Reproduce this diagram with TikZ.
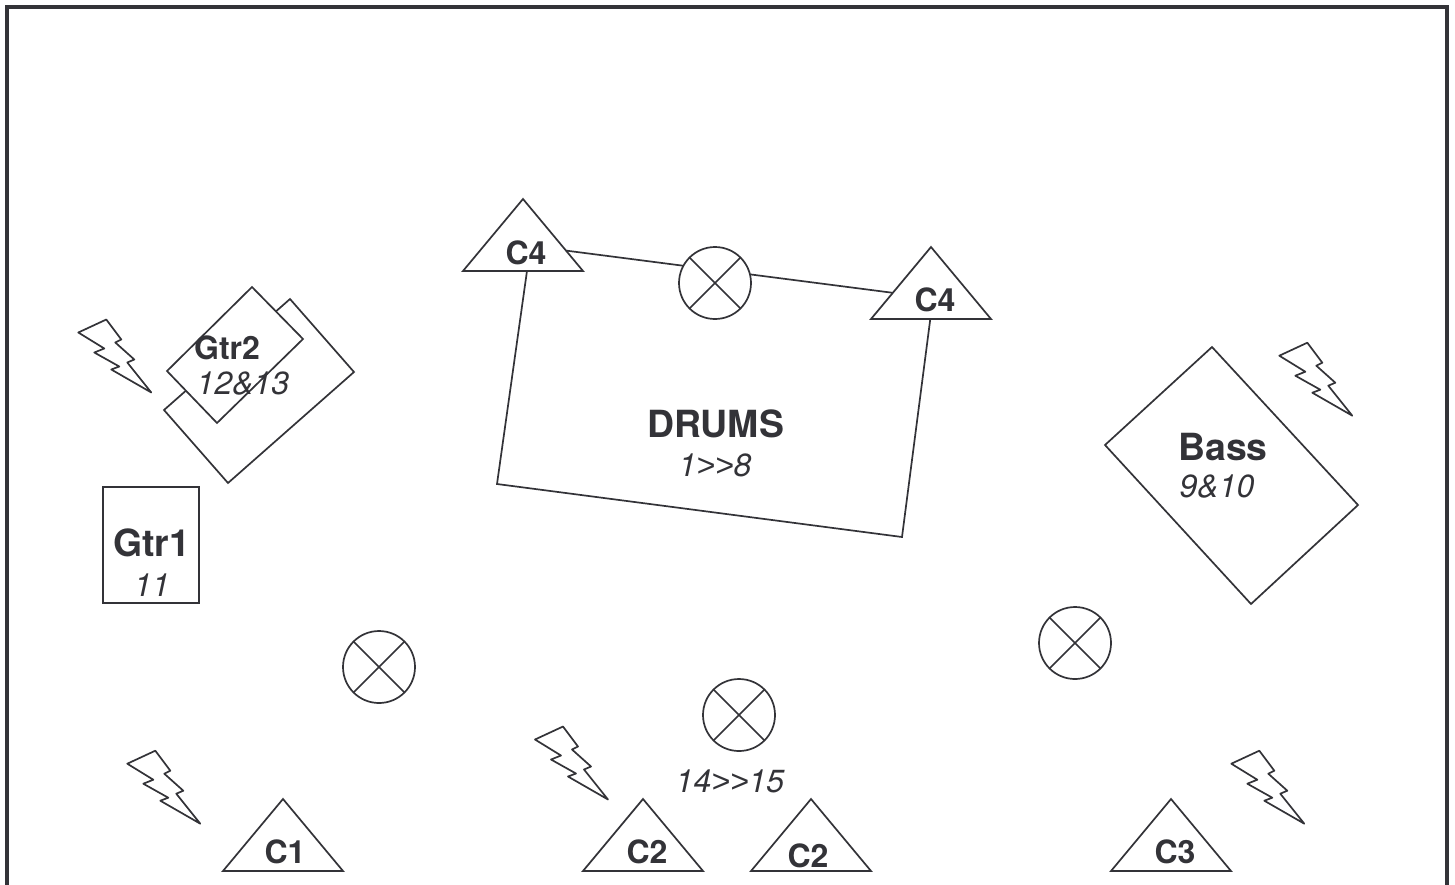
\documentclass[tikz,border=0pt]{standalone}
\usepackage{fontspec}
\setmainfont{TeX Gyre Heros}
\newfontfamily\arialish{Liberation Sans}
\definecolor{ink}{HTML}{333338}
\newcommand{\dblgt}{{\arialish\itshape >\kern0pt>}}
\tikzset{
  shapeline/.style={draw=ink,line width=1.7pt,line join=miter,fill=white},
  big/.style={text=ink,font=\fontsize{37.4}{40}\selectfont\bfseries,inner sep=0pt},
  small/.style={text=ink,font=\fontsize{32}{34}\selectfont\bfseries,inner sep=0pt},
  chan/.style={text=ink,font=\fontsize{32}{34}\selectfont\itshape,inner sep=0pt},
  mic/.pic={
    \draw[shapeline] (0,0) circle (36);
    \draw[draw=ink,line width=1.7pt] (45:36) -- (225:36) (135:36) -- (315:36);
  },
  tri/.pic={
    \draw[shapeline] (0,0) -- (60,72) -- (-60,72) -- cycle;
  },
  bolt/.pic={
    \draw[shapeline,fill=none,line join=round] (0,0) -- (28,-13) -- (43,7) -- (37,10) -- (56,27) -- (49,30) -- (73,60) -- (33,37) -- (41,34) -- (16,20) -- (26,16) -- cycle;
  }
}
\begin{document}
\begin{tikzpicture}[x=1pt,y=-1pt]
\useasboundingbox (0,0) rectangle (1455,884);
\clip (0,0) rectangle (1455,884);
\fill[white] (0,0) rectangle (1455,884);
\draw[draw=ink,line width=4.4pt] (7,7) rectangle (1447.2,900);
% Drum riser
\coordinate (dA) at (530.5,246);
\coordinate (dB) at (933,298);
\coordinate (dC) at (902,537);
\coordinate (dD) at (497,484);
\draw[shapeline] (dA) -- (dB) -- (dC) -- (dD) -- cycle;
\pic at (523,199) {tri};
\pic at (931,247) {tri};
\pic at (715,283) {mic};
\node[small] (c4a) at (526,253) {C4};
\node[small] (c4b) at (935,300) {C4};
\node[big] (drums) at (715.5,424) {DRUMS};
\node[chan] (drumch) at (715,465) {1\dblgt8};
% Gtr2 amps
\coordinate (gA) at (290,299);
\coordinate (gB) at (354,372);
\coordinate (gC) at (228,483);
\coordinate (gD) at (164,410);
\draw[shapeline] (gA) -- (gB) -- (gC) -- (gD) -- cycle;
\coordinate (hA) at (252,287);
\coordinate (hB) at (303,339);
\coordinate (hC) at (217,423);
\coordinate (hD) at (167,371);
\draw[shapeline] (hA) -- (hB) -- (hC) -- (hD) -- cycle;
\node[small] (gtr2) at (227,348) {Gtr2};
\node[chan] (gtr2ch) at (243,384) {12\&13};
% Gtr1 amp
\coordinate (jA) at (103,487);
\coordinate (jB) at (199,603);
\draw[shapeline] (jA) rectangle (jB);
\node[big] (gtr1) at (151.5,543) {Gtr1};
\node[chan] (gtr1ch) at (152,585) {11};
% Bass amp
\coordinate (bA) at (1212,347);
\coordinate (bB) at (1358,505);
\coordinate (bC) at (1251,604);
\coordinate (bD) at (1105,445);
\draw[shapeline] (bA) -- (bB) -- (bC) -- (bD) -- cycle;
\node[big] (bass) at (1223,447) {Bass};
\node[chan] (bassch) at (1217,487) {9\&10};
% Monitors
\pic at (379,667) {mic};
\pic at (739,715) {mic};
\pic at (1075,643) {mic};
\node[chan] (mon) at (730,781) {14\dblgt15};
% Front triangles
\pic at (283,799) {tri};
\pic at (643,799) {tri};
\pic at (811,799) {tri};
\pic at (1171,799) {tri};
\node[small] (c1) at (285,852) {C1};
\node[small] (c2a) at (647,852) {C2};
\node[small] (c2b) at (808,856) {C2};
\node[small] (c3) at (1175,852) {C3};
% Bolts
\pic at (78.3,332.5) {bolt};
\pic at (1279.3,355.7) {bolt};
\pic at (127.3,763.7) {bolt};
\pic at (535,739.5) {bolt};
\pic at (1231.3,763.7) {bolt};
\end{tikzpicture}
\end{document}
